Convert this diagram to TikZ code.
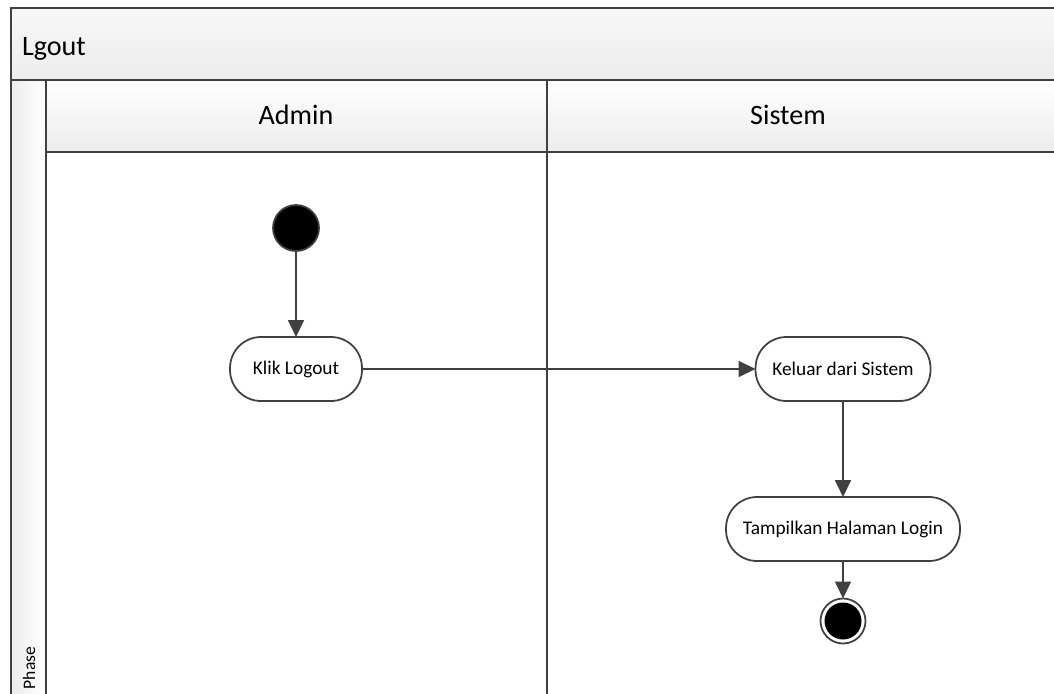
\documentclass[tikz,border=0pt]{standalone}
\usepackage{fontspec}
\setmainfont{Carlito}
\usetikzlibrary{arrows.meta}
\definecolor{linegray}{HTML}{404040}
\definecolor{bandgray}{HTML}{ECECEC}

\begin{document}
\begin{tikzpicture}[x=0.02cm,y=-0.02cm,every node/.style={outer sep=0pt},
    activity/.style={draw=linegray,line width=1pt,rounded corners=0.62cm,fill=white,minimum height=1.28cm,font=\fontsize{11}{13}\selectfont},
    flow/.style={draw=linegray,line width=1pt,-{Triangle[length=0.34cm,width=0.32cm]}},
    lane/.style={draw=linegray,line width=1pt}]
    \useasboundingbox (0,0) rectangle (1054,693);
    \clip (0,0) rectangle (1054,693);

    % header bands
    \shade[top color=white!97!black,bottom color=bandgray] (11,8) rectangle (1060,80);
    \shade[top color=white,bottom color=bandgray] (46,80) rectangle (1060,152);
    \shade[left color=bandgray,right color=white] (11,80) rectangle (46,700);

    \draw[lane] (1060,8) -- (11,8) -- (11,700);
    \draw[lane] (11,80) -- (1060,80);
    \draw[lane] (46,80) -- (46,700);
    \draw[lane] (46,152) -- (1060,152);
    \draw[lane] (547,80) -- (547,700);

    \node[anchor=base west,inner sep=0pt,font=\fontsize{16}{18}\selectfont] (title) at (22,55) {Lgout};
    \node[anchor=base,font=\fontsize{16}{18}\selectfont] (admin) at (296,124) {Admin};
    \node[anchor=base,font=\fontsize{16}{18}\selectfont] (sistem) at (788,124) {Sistem};
    \node[rotate=90,font=\fontsize{10}{12}\selectfont] (phase) at (29,668) {Phase};

    % activities
    \node[circle,fill=black,draw=linegray,line width=1pt,minimum size=0.92cm] (start) at (296,228) {};
    \node[activity,minimum width=2.64cm] (klik) at (296,369) {Klik Logout};
    \node[activity,minimum width=3.5cm] (keluar) at (843,369) {Keluar dari Sistem};
    \node[activity,minimum width=4.68cm] (tampil) at (843,529) {Tampilkan Halaman Login};
    \node[circle,draw=linegray,line width=1pt,fill=white,minimum size=0.9cm] (end) at (843,621) {};
    \node[circle,fill=black,minimum size=0.74cm] (endin) at (end) {};

    \draw[flow] (start) -- (klik);
    \draw[flow] (klik) -- (keluar);
    \draw[flow] (keluar) -- (tampil);
    \draw[flow] (tampil) -- (end);
\end{tikzpicture}
\end{document}
